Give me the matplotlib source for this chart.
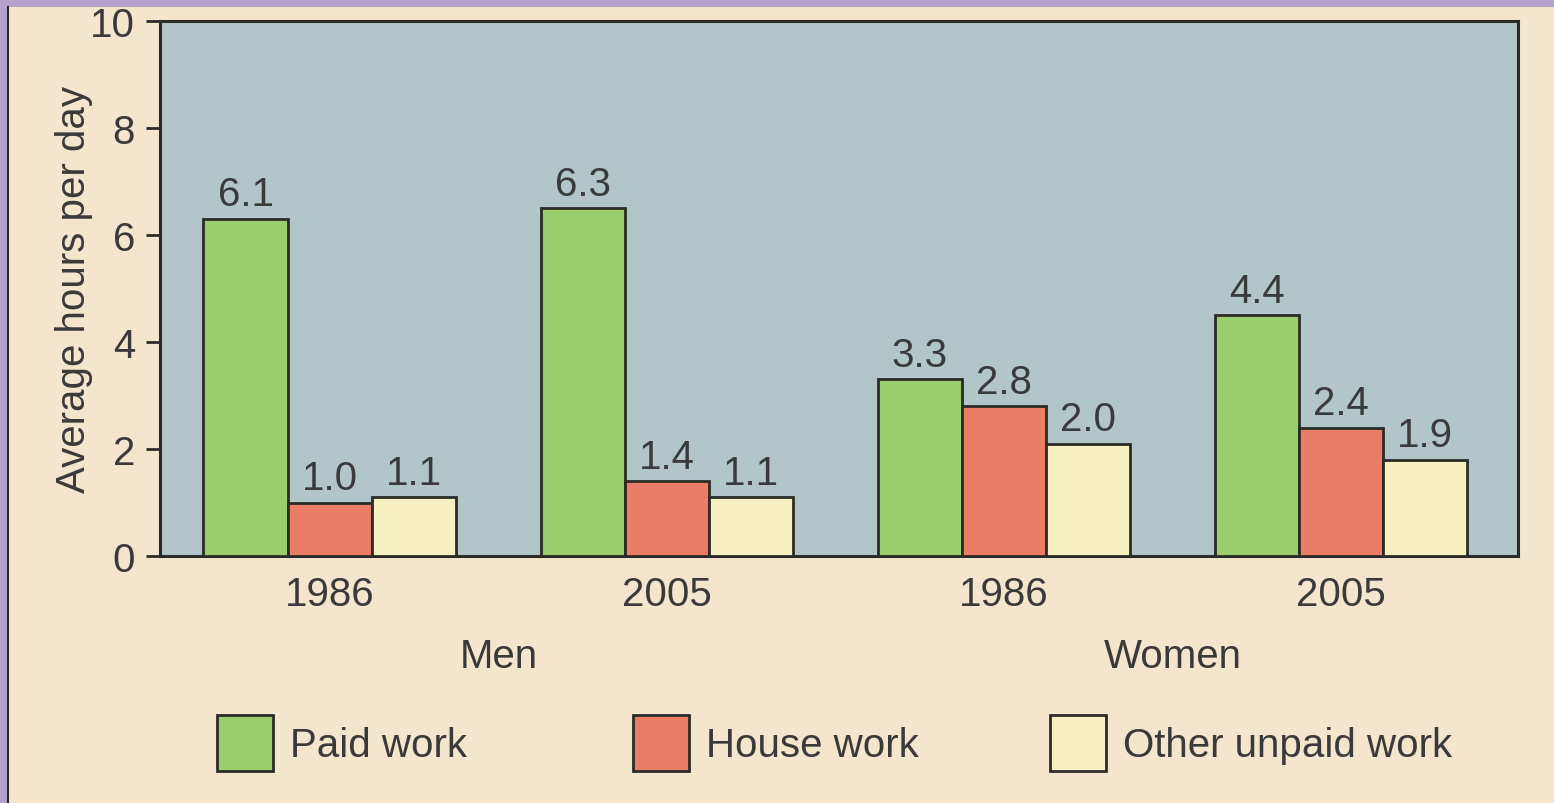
import matplotlib.pyplot as plt
import numpy as np
from matplotlib.patches import Rectangle, Patch

plt.rcParams['font.family'] = ['Liberation Sans', 'DejaVu Sans']

# data
years = ['1986', '2005', '1986', '2005']
groups = ['Men', 'Women']
series = ['Paid work', 'House work', 'Other unpaid work']
paid = [6.3, 6.5, 3.3, 4.5]
house = [1.0, 1.4, 2.8, 2.4]
other = [1.1, 1.1, 2.1, 1.8]
paid_labels = ['6.1', '6.3', '3.3', '4.4']
house_labels = ['1.0', '1.4', '2.8', '2.4']
other_labels = ['1.1', '1.1', '2.0', '1.9']

colors = ['#9acd6b', '#e97d66', '#f5efc1']
bg = '#f3e6cd'
axbg = '#b2c6ca'
edge = '#2b2b27'
txt = '#3a3a3a'
fs = 29

fig = plt.figure(figsize=(15.54, 8.04), dpi=100, facecolor=bg)
ax = fig.add_axes([160/1554, 1 - 557/804, (1518-160)/1554, (557-22)/804])
ax.set_facecolor(axbg)

x = np.arange(len(years))
w = 0.25
vals = [paid, house, other]
labs = [paid_labels, house_labels, other_labels]
for i in range(3):
    bars = ax.bar(x + (i-1)*w, vals[i], w, color=colors[i], edgecolor=edge,
                  linewidth=2, label=series[i], zorder=3)
    ax.bar_label(bars, labels=labs[i], padding=4, fontsize=fs, color=txt)

ax.set_xlim(-0.504, 3.525)
ax.set_ylim(0, 10)
ax.set_yticks([0, 2, 4, 6, 8, 10])
ax.set_xticks(x)
ax.set_xticklabels(years)
ax.tick_params(axis='x', length=0, pad=14, labelsize=fs, labelcolor=txt)
ax.tick_params(axis='y', length=10, width=2, color=edge, pad=8, labelsize=fs, labelcolor=txt)
ax.set_ylabel('Average hours per day', fontsize=fs, color=txt, labelpad=-2)
for s in ax.spines.values():
    s.set_linewidth(2.2)
    s.set_color(edge)

for j, g in enumerate(groups):
    ax.text(x[2*j:2*j+2].mean(), -0.187, g, transform=ax.get_xaxis_transform(),
            ha='center', va='center', fontsize=fs, color=txt)

# legend entries sit at evenly spaced positions
leg_x = [217, 633, 1050]
for i in range(3):
    h = Patch(facecolor=colors[i], edgecolor=edge, linewidth=2)
    leg = fig.legend([h], [series[i]], loc='center left',
                     bbox_to_anchor=(leg_x[i]/1554, 1 - 744/804), frameon=False,
                     fontsize=fs, handlelength=1.39, handleheight=1.76,
                     handletextpad=0.42, borderpad=0, borderaxespad=0, labelcolor=txt)

# purple frame at top and left
fig.patches.append(Rectangle((0, 1 - 8/804), 1, 8/804, transform=fig.transFigure,
                             facecolor='#b3a3cc', edgecolor='none'))
fig.patches.append(Rectangle((0, 0), 7/1554, 1, transform=fig.transFigure,
                             facecolor='#b3a3cc', edgecolor='none'))
fig.add_artist(plt.Line2D([8/1554, 8/1554], [0, 1 - 8/804], transform=fig.transFigure,
                          color=edge, linewidth=1.5))

fig.savefig('out.png', dpi=100, facecolor=bg)
